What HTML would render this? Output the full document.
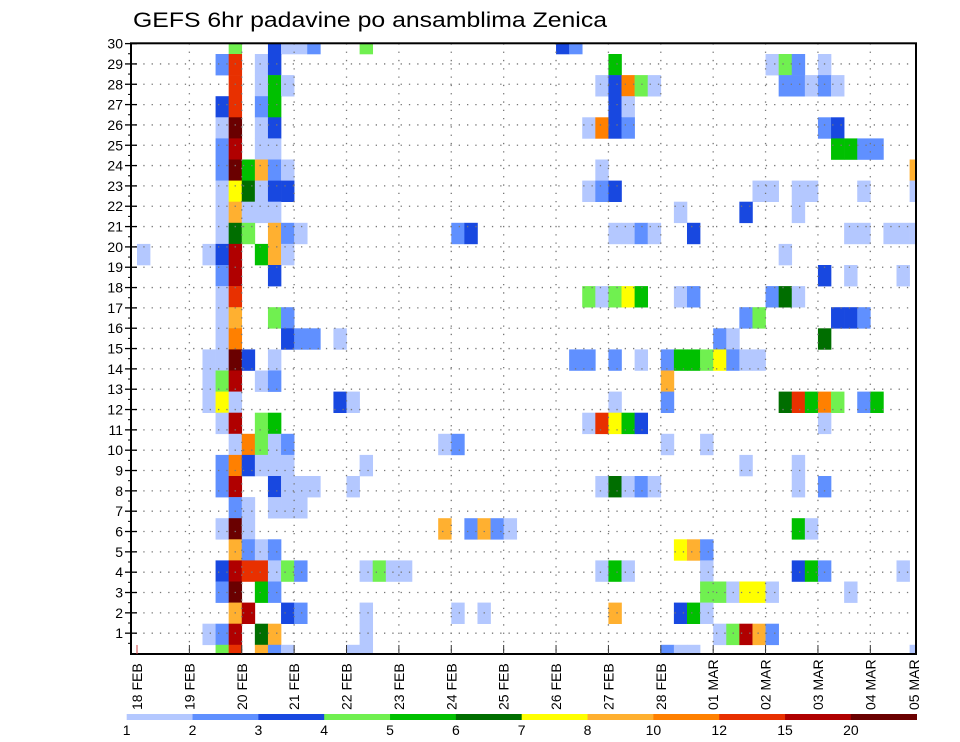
<!DOCTYPE html>
<html>
<head>
<meta charset="utf-8">
<style>
  html,body{margin:0;padding:0;background:#fff;}
  svg{display:block;font-family:"Liberation Sans",sans-serif;}
</style>
</head>
<body>
<svg id="chart" width="960" height="742" viewBox="0 0 960 742" xmlns="http://www.w3.org/2000/svg">
  <rect x="0" y="0" width="960" height="742" fill="#fff"/>
  <text x="133" y="27" font-size="21" textLength="474" lengthAdjust="spacingAndGlyphs" fill="#000">GEFS 6hr padavine po ansamblima Zenica</text>
  <g id="cells"></g>
  <g id="grid"></g>
  <g id="axes"></g>
  <g id="legend"></g>
</svg>
<script>
// ---- data ----
const dayLabels = ["18 FEB","19 FEB","20 FEB","21 FEB","22 FEB","23 FEB","24 FEB","25 FEB","26 FEB","27 FEB","28 FEB","01 MAR","02 MAR","03 MAR","04 MAR","05 MAR"];
const memberTicks = [1,2,3,4,5,6,7,8,9,10,11,12,13,14,15,16,17,18,19,20,21,22,23,24,25,26,27,28,29,30];
const levelLabels = ["1","2","3","4","5","6","7","8","10","12","15","20"];
const levelColors = ["#b4c8ff","#6090ff","#1848e0","#70f050","#00c000","#006e00","#ffff00","#ffb030","#ff8000","#e83000","#b00000","#6a0000"];
// cells: [6h step index, ensemble member, colour level 1..12]
const cells = [
[7,30,4],[10,30,3],[11,30,1],[12,30,1],[13,30,2],[17,30,4],[32,30,3],[33,30,2],
[6,29,2],[7,29,10],[9,29,1],[10,29,3],[36,29,5],[48,29,1],[49,29,4],[50,29,2],[52,29,1],
[7,28,10],[9,28,1],[10,28,5],[11,28,1],[35,28,1],[36,28,3],[37,28,9],[38,28,4],[39,28,1],[49,28,2],[50,28,2],[51,28,1],[52,28,2],[53,28,1],
[6,27,3],[7,27,10],[9,27,2],[10,27,5],[36,27,3],[37,27,1],
[6,26,1],[7,26,12],[9,26,1],[10,26,3],[34,26,1],[35,26,9],[36,26,3],[37,26,2],[52,26,2],[53,26,3],
[6,25,2],[7,25,11],[9,25,1],[10,25,1],[53,25,5],[54,25,5],[55,25,2],[56,25,2],
[6,24,2],[7,24,12],[8,24,5],[9,24,8],[10,24,2],[11,24,1],[35,24,1],[59,24,8],
[6,23,1],[7,23,7],[8,23,6],[9,23,1],[10,23,3],[11,23,3],[34,23,1],[35,23,2],[36,23,3],[47,23,1],[48,23,1],[50,23,1],[51,23,1],[55,23,1],[59,23,1],
[6,22,1],[7,22,8],[8,22,1],[9,22,1],[10,22,1],[41,22,1],[46,22,3],[50,22,1],
[6,21,1],[7,21,6],[8,21,4],[10,21,8],[11,21,2],[12,21,1],[24,21,2],[25,21,3],[36,21,1],[37,21,1],[38,21,2],[39,21,1],[42,21,3],[54,21,1],[55,21,1],[57,21,1],[58,21,1],[59,21,1],
[0,20,1],[5,20,1],[6,20,3],[7,20,11],[9,20,5],[10,20,8],[11,20,1],[49,20,1],
[6,19,2],[7,19,11],[10,19,3],[52,19,3],[54,19,1],[58,19,1],
[6,18,1],[7,18,10],[34,18,4],[35,18,1],[36,18,4],[37,18,7],[38,18,5],[41,18,1],[42,18,2],[48,18,2],[49,18,6],[50,18,1],
[6,17,1],[7,17,8],[10,17,4],[11,17,2],[46,17,2],[47,17,4],[53,17,3],[54,17,3],[55,17,2],
[6,16,1],[7,16,9],[11,16,3],[12,16,2],[13,16,2],[15,16,1],[44,16,2],[45,16,1],[52,16,6],
[5,15,1],[6,15,1],[7,15,12],[8,15,3],[10,15,1],[33,15,2],[34,15,2],[36,15,2],[38,15,1],[40,15,2],[41,15,5],[42,15,5],[43,15,4],[44,15,7],[45,15,2],[46,15,1],[47,15,1],
[5,14,1],[6,14,4],[7,14,11],[9,14,1],[10,14,2],[40,14,8],
[5,13,1],[6,13,7],[7,13,1],[15,13,3],[16,13,1],[36,13,1],[40,13,2],[49,13,6],[50,13,10],[51,13,5],[52,13,9],[53,13,4],[55,13,2],[56,13,5],
[6,12,1],[7,12,11],[9,12,4],[10,12,5],[34,12,1],[35,12,10],[36,12,7],[37,12,5],[38,12,3],[52,12,1],
[7,11,1],[8,11,9],[9,11,4],[10,11,1],[11,11,2],[23,11,1],[24,11,2],[40,11,1],[43,11,1],
[6,10,2],[7,10,9],[8,10,3],[9,10,1],[10,10,1],[11,10,1],[17,10,1],[46,10,1],[50,10,1],
[6,9,2],[7,9,11],[10,9,3],[11,9,1],[12,9,1],[13,9,1],[16,9,1],[35,9,1],[36,9,6],[37,9,1],[38,9,2],[39,9,1],[50,9,1],[52,9,2],
[7,8,2],[8,8,1],[10,8,1],[11,8,1],[12,8,1],
[6,7,1],[7,7,12],[8,7,1],[23,7,8],[25,7,2],[26,7,8],[27,7,2],[28,7,1],[50,7,5],[51,7,1],
[7,6,8],[8,6,2],[9,6,1],[10,6,2],[41,6,7],[42,6,8],[43,6,2],
[6,5,3],[7,5,11],[8,5,10],[9,5,10],[10,5,1],[11,5,4],[12,5,2],[17,5,1],[18,5,4],[19,5,1],[20,5,1],[35,5,1],[36,5,5],[37,5,1],[43,5,1],[50,5,3],[51,5,5],[52,5,2],[58,5,1],
[6,4,2],[7,4,12],[9,4,5],[10,4,2],[43,4,4],[44,4,4],[45,4,1],[46,4,7],[47,4,7],[48,4,1],[54,4,1],
[7,3,8],[8,3,11],[11,3,3],[12,3,2],[17,3,1],[24,3,1],[26,3,1],[36,3,8],[41,3,3],[42,3,5],[43,3,1],
[5,2,1],[6,2,2],[7,2,11],[9,2,6],[10,2,8],[17,2,1],[44,2,1],[45,2,4],[46,2,11],[47,2,8],[48,2,2],
[6,1,4],[7,1,10],[9,1,8],[10,1,2],[11,1,1],[16,1,1],[17,1,1],[40,1,2],[41,1,1],[42,1,1],[59,1,1]
];

// ---- layout / scales ----
const NS = "http://www.w3.org/2000/svg";
const plot = {left:131, right:916, top:43.3, bottom:654};
const day0X = 137, dayW = 52.38;
const stepW = dayW/4;
function xDay(d){ return day0X + d*dayW; }
function xStep(s){ return day0X + s*stepW; }
function yTick(m){ return 653.5 - 20.33*m; }
const cellH = 21.1;
function yCellTop(m){ return 54 + cellH*(29 - m); }

function mk(tag, attrs, parent){
  const e = document.createElementNS(NS, tag);
  for (const k in attrs) e.setAttribute(k, attrs[k]);
  parent.appendChild(e);
  return e;
}

// cells
const gC = document.getElementById('cells');
cells.forEach(function(c){
  const x0 = xStep(c[0]);
  const x1 = Math.min(x0 + stepW, plot.right);
  let y0 = yCellTop(c[1]);
  let y1 = y0 + cellH;
  y0 = Math.max(y0, plot.top); y1 = Math.min(y1, plot.bottom);
  const r = mk('rect', {x:x0.toFixed(2), y:y0.toFixed(2), width:(x1-x0+0.3).toFixed(2), height:(y1-y0+0.3).toFixed(2), fill:levelColors[c[2]-1]}, gC);
  
  
});

// dotted grid
const gG = document.getElementById('grid');
memberTicks.forEach(function(m){
  if (m >= 30) return;
  const l = mk('line', {x1:plot.left+4, x2:plot.right, y1:yTick(m), y2:yTick(m), stroke:'#777', 'stroke-width':1.3, 'stroke-dasharray':'1.3 7'}, gG);
  
  
});
dayLabels.forEach(function(lab, d){
  const x = xDay(d);
  if (d === 0 || x >= plot.right) return;
  const l = mk('line', {x1:x, x2:x, y1:plot.top, y2:plot.bottom, stroke:'#777', 'stroke-width':1.3, 'stroke-dasharray':'1.3 7'}, gG);
  
  
});

// axes
const gA = document.getElementById('axes');
const frame = mk('rect', {x:plot.left, y:plot.top, width:plot.right-plot.left, height:plot.bottom-plot.top, fill:'none', stroke:'#000', 'stroke-width':2}, gA);


memberTicks.forEach(function(m){
  const y = yTick(m);
  const t = mk('line', {x1:plot.left-6, x2:plot.left+6, y1:y, y2:y, stroke:'#000', 'stroke-width':1.3}, gA);
  
  
  const mn = mk('line', {x1:plot.left-3, x2:plot.left, y1:y+10.16, y2:y+10.16, stroke:'#000', 'stroke-width':1}, gA);
  
  
  const tx = mk('text', {x:123, y:y+5, 'font-size':14, 'text-anchor':'end', fill:'#000'}, gA);
  tx.textContent = String(m);
  
  
});
dayLabels.forEach(function(lab, d){
  let x = xDay(d);
  if (x < plot.right) {
    const t = mk('line', {x1:x, x2:x, y1:plot.bottom-9, y2:plot.bottom, stroke: d===0 ? '#c44' : '#333', 'stroke-width':1}, gA);
    
    
  } else {
    x = plot.right - 2;
  }
  const tx = mk('text', {x:0, y:0, 'font-size':14, 'text-anchor':'start', fill:'#000', transform:'translate(' + (x+5).toFixed(1) + ',710) rotate(-90)'}, gA);
  tx.textContent = lab;
  
  
});

// colorbar legend
const gL = document.getElementById('legend');
const cbLeft = 126.7, cbRight = 916.7, cbY = 714, cbH = 6;
const segW = (cbRight - cbLeft) / levelColors.length;
levelColors.forEach(function(col, i){
  const r = mk('rect', {x:(cbLeft + i*segW).toFixed(2), y:cbY, width:(segW+0.3).toFixed(2), height:cbH, fill:col}, gL);
  
  
});
levelLabels.forEach(function(lab, i){
  const tx = mk('text', {x:(cbLeft + i*segW).toFixed(2), y:735, 'font-size':14, 'text-anchor':'middle', fill:'#000'}, gL);
  tx.textContent = lab;
  
  
});
</script>
</body>
</html>
